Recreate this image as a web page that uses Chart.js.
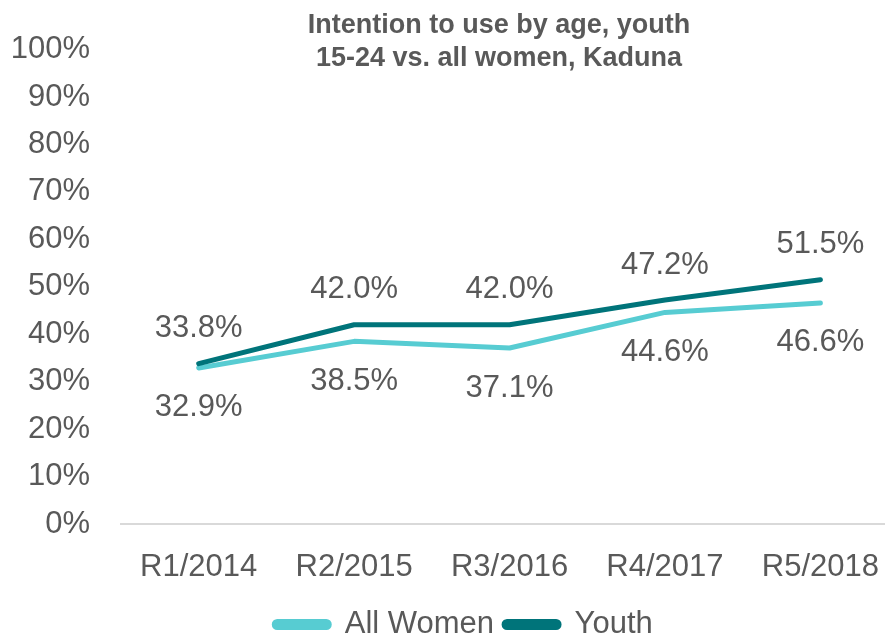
<!DOCTYPE html>
<html>
<head>
<meta charset="utf-8">
<script src="https://cdn.jsdelivr.net/npm/chart.js@4"></script>
<style>
html,body{margin:0;padding:0;overflow:hidden;background:#fff;}
#wrap{width:904px;height:636px;position:relative;}
</style>
</head>
<body>
<div id="wrap"><canvas id="c"></canvas></div>
<script>
const categories = ['R1/2014','R2/2015','R3/2016','R4/2017','R5/2018'];
const allWomen = [32.9, 38.5, 37.1, 44.6, 46.6];
const youth = [33.8, 42.0, 42.0, 47.2, 51.5];
const titleLines = ['Intention to use by age, youth', '15-24 vs. all women, Kaduna'];
const seriesNames = ['All Women', 'Youth'];

const TEXT = '#595959';
const FONT = "'Liberation Sans', Arial, sans-serif";

const titlePlugin = {
  id: 'fixedTitle',
  afterDraw(chart) {
    const ctx = chart.ctx;
    ctx.save();
    ctx.fillStyle = TEXT;
    ctx.font = "bold 27px " + FONT;
    ctx.textAlign = 'center';
    ctx.textBaseline = 'alphabetic';
    ctx.fillText(titleLines[0], 499, 33);
    ctx.fillText(titleLines[1], 499, 66);
    ctx.restore();
  }
};

const legendShift = {
  id: 'legendShift',
  afterLayout(chart) {
    if (chart.legend) { chart.legend.left += 23; }
  }
};

const labelPlugin = {
  id: 'valueLabels',
  afterDatasetsDraw(chart) {
    const ctx = chart.ctx;
    ctx.save();
    ctx.fillStyle = TEXT;
    ctx.font = "31px " + FONT;
    ctx.textAlign = 'center';
    ctx.textBaseline = 'middle';
    chart.data.datasets.forEach((ds, i) => {
      const meta = chart.getDatasetMeta(i);
      const off = ds.labelPos === 'above' ? -35 : 40;
      meta.data.forEach((pt, j) => {
        ctx.fillText(ds.data[j].toFixed(1) + '%', pt.x, pt.y + off);
      });
    });
    ctx.restore();
  }
};

new Chart(document.getElementById('c'), {
  type: 'line',
  data: {
    labels: categories,
    datasets: [
      {
        label: seriesNames[0],
        data: allWomen,
        borderColor: '#57CCD2',
        backgroundColor: '#57CCD2',
        borderWidth: 5,
        pointRadius: 0,
        borderCapStyle: 'round',
        borderJoinStyle: 'round',
        labelPos: 'below',
        order: 2
      },
      {
        label: seriesNames[1],
        data: youth,
        borderColor: '#00747A',
        backgroundColor: '#00747A',
        borderWidth: 5,
        pointRadius: 0,
        borderCapStyle: 'round',
        borderJoinStyle: 'round',
        labelPos: 'above',
        order: 1
      }
    ]
  },
  options: {
    responsive: true,
    maintainAspectRatio: false,
    animation: false,
    layout: { padding: { left: 0, right: 0, top: 49, bottom: -14 } },
    plugins: {
      title: { display: false },
      tooltip: { enabled: false },
      legend: {
        position: 'bottom',
        labels: {
          color: TEXT,
          font: { family: FONT, size: 31 },
          boxWidth: 55,
          boxHeight: 6,
          padding: 10,
          useBorderRadius: true,
          borderRadius: 3,
          sort: (a, b) => a.datasetIndex - b.datasetIndex
        }
      }
    },
    scales: {
      x: {
        offset: true,
        afterFit(s) { s.height = 75; },
        grid: { display: false, drawTicks: false, offset: true },
        border: { display: true, color: '#D9D9D9', width: 2 },
        ticks: { color: TEXT, font: { family: FONT, size: 31 }, padding: 25, maxRotation: 0 }
      },
      y: {
        min: 0,
        max: 100,
        afterFit(s) { s.width = 121; },
        grid: { display: false, drawTicks: false },
        border: { display: false },
        ticks: {
          stepSize: 10,
          color: TEXT,
          font: { family: FONT, size: 31 },
          padding: 31,
          callback: v => v + '%'
        }
      }
    }
  },
  plugins: [titlePlugin, labelPlugin, legendShift]
});
</script>
</body>
</html>
